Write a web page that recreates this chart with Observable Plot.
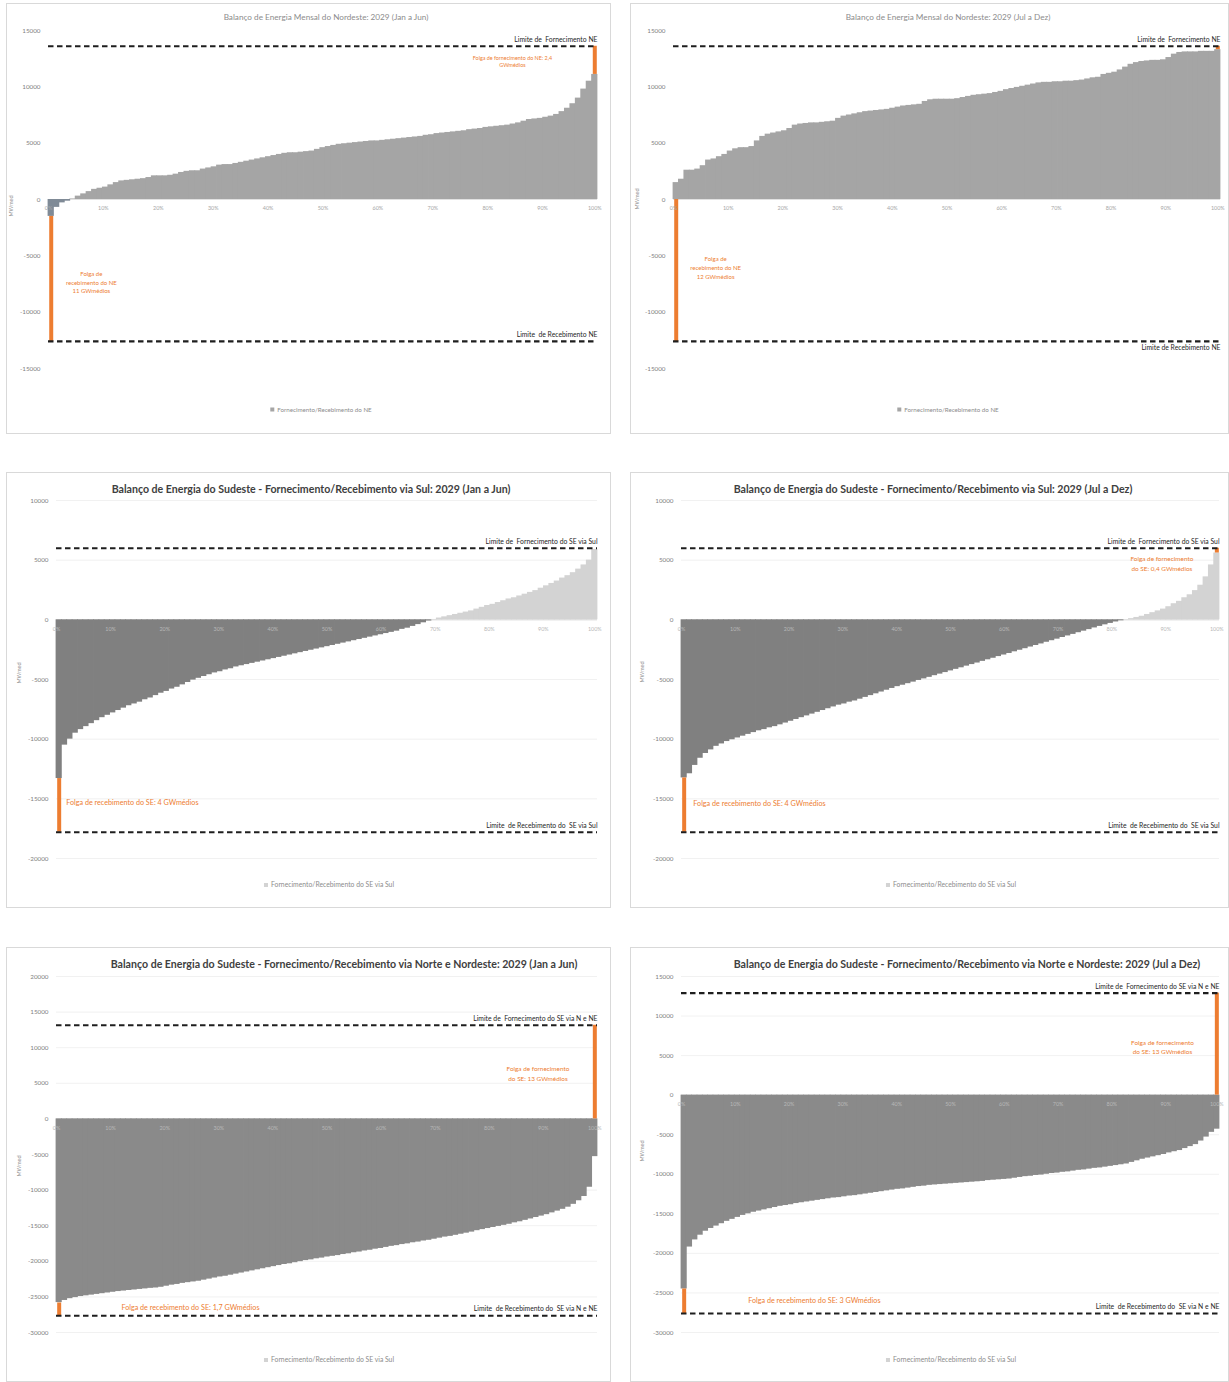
<!DOCTYPE html>
<html><head><meta charset="utf-8">
<script src="https://cdn.jsdelivr.net/npm/d3@7"></script>
<script src="https://cdn.jsdelivr.net/npm/@observablehq/plot@0.6"></script>
<style>
body{margin:0;background:#fff;font-family:Lato,"Open Sans",sans-serif;}
#root{position:relative;width:1229px;height:1382px;overflow:hidden;background:#fff;}
.card{position:absolute;border:1px solid #d9d9d9;box-sizing:border-box;background:#fff;}
.card svg{position:absolute;left:0;top:0;overflow:visible;}
.title{position:absolute;white-space:nowrap;transform:translate(-50%,-50%);}
.legend{position:absolute;white-space:nowrap;transform:translate(-50%,-50%);color:#8c8c8c;}
.legend span{display:inline-block;width:4px;height:4px;margin-right:3px;vertical-align:middle;}
.ylab{position:absolute;white-space:nowrap;transform:translate(-50%,-50%) rotate(-90deg);color:#8c8c8c;font-size:5.5px;}
</style></head>
<body><div id="root"></div>
<script>
// ---------- DATA ----------
const xTickLabels = ["0%","10%","20%","30%","40%","50%","60%","70%","80%","90%","100%"];

const nordesteJanJun = [-1500,-700,-300,-150,50,300,500,700,900,1000,1100,1300,1500,1650,1700,1750,1800,1850,1950,2100,2100,2100,2150,2250,2400,2500,2550,2550,2700,2800,2900,3050,3100,3100,3200,3300,3400,3500,3600,3700,3800,3900,4000,4100,4150,4150,4200,4250,4300,4450,4600,4700,4800,4900,4950,5000,5050,5100,5150,5200,5200,5250,5300,5350,5400,5450,5500,5550,5600,5700,5750,5850,5900,5950,6000,6050,6100,6200,6250,6300,6400,6450,6500,6550,6600,6700,6800,6950,7100,7150,7200,7300,7400,7550,7800,8100,8500,9000,9800,10500,11100];
const nordesteJulDez = [1500,1800,2600,2600,2700,3000,3500,3600,3800,4000,4300,4500,4600,4600,4700,5200,5600,5800,5900,6000,6100,6300,6600,6700,6750,6800,6800,6850,6900,6950,7200,7400,7500,7600,7700,7800,7850,7900,7950,8000,8100,8200,8300,8350,8400,8450,8700,8850,8900,8900,8900,8900,8950,9050,9150,9250,9300,9350,9400,9500,9600,9750,9850,9950,10050,10150,10250,10350,10400,10400,10450,10450,10500,10500,10550,10600,10700,10800,10850,11100,11200,11300,11500,11750,12000,12150,12250,12300,12350,12350,12400,12600,12900,13050,13100,13100,13100,13150,13150,13150,13300];
const sulJanJun = [-13300,-10500,-10000,-9500,-9200,-8950,-8700,-8450,-8200,-8000,-7800,-7600,-7400,-7200,-7050,-6900,-6700,-6550,-6350,-6150,-6000,-5800,-5650,-5450,-5250,-5050,-4900,-4750,-4600,-4450,-4350,-4200,-4100,-3950,-3850,-3750,-3650,-3550,-3450,-3350,-3250,-3150,-3050,-2950,-2850,-2750,-2650,-2550,-2450,-2350,-2250,-2150,-2050,-1950,-1850,-1750,-1650,-1550,-1450,-1350,-1250,-1150,-1050,-950,-800,-700,-550,-400,-250,-100,30,150,250,350,450,550,650,750,900,1050,1200,1300,1450,1600,1750,1850,2000,2150,2300,2450,2650,2850,3050,3250,3500,3700,3950,4250,4600,5000,5900];
const sulJulDez = [-13250,-12900,-12200,-11600,-11200,-10900,-10600,-10400,-10200,-10050,-9900,-9750,-9600,-9450,-9300,-9200,-9050,-8950,-8800,-8650,-8500,-8350,-8200,-8050,-7900,-7750,-7600,-7450,-7300,-7150,-7050,-6900,-6800,-6650,-6500,-6350,-6200,-6050,-5900,-5750,-5600,-5480,-5350,-5220,-5080,-4950,-4820,-4680,-4550,-4420,-4280,-4150,-4020,-3880,-3750,-3620,-3480,-3350,-3220,-3080,-2950,-2820,-2680,-2550,-2420,-2280,-2150,-2020,-1880,-1750,-1620,-1480,-1350,-1220,-1080,-950,-820,-680,-550,-420,-300,-180,-80,20,100,200,300,450,600,750,900,1100,1350,1550,1850,2100,2450,2900,3600,4600,5600];
const nneJanJun = [-25800,-25500,-25250,-25100,-24950,-24850,-24750,-24650,-24550,-24450,-24350,-24250,-24180,-24100,-24030,-23950,-23880,-23800,-23750,-23650,-23500,-23350,-23250,-23100,-23000,-22900,-22800,-22650,-22500,-22350,-22200,-22100,-21950,-21800,-21650,-21500,-21350,-21200,-21050,-20900,-20750,-20600,-20450,-20350,-20200,-20050,-19900,-19800,-19650,-19550,-19400,-19300,-19200,-19050,-18950,-18800,-18700,-18550,-18450,-18300,-18200,-18050,-17900,-17800,-17650,-17550,-17400,-17300,-17150,-17050,-16900,-16750,-16600,-16500,-16350,-16200,-16050,-15900,-15700,-15550,-15400,-15250,-15100,-14950,-14800,-14600,-14450,-14250,-14050,-13850,-13650,-13450,-13200,-12950,-12700,-12400,-12000,-11500,-10900,-9600,-5300];
const nneJulDez = [-24500,-19200,-18300,-17700,-17200,-16850,-16550,-16250,-15950,-15700,-15450,-15200,-15000,-14800,-14650,-14500,-14350,-14200,-14050,-13950,-13850,-13700,-13600,-13500,-13400,-13300,-13200,-13100,-13000,-12950,-12850,-12750,-12700,-12600,-12500,-12400,-12300,-12200,-12100,-12000,-11900,-11850,-11750,-11650,-11550,-11500,-11400,-11350,-11300,-11250,-11200,-11150,-11100,-11050,-11000,-10950,-10900,-10800,-10750,-10700,-10650,-10600,-10500,-10400,-10300,-10250,-10150,-10100,-10000,-9900,-9850,-9750,-9700,-9600,-9500,-9450,-9350,-9250,-9200,-9100,-9000,-8900,-8800,-8700,-8500,-8300,-8100,-7950,-7800,-7650,-7500,-7300,-7150,-7000,-6750,-6500,-6250,-5800,-5300,-4700,-4300];

// limits [fornecimento, recebimento] (MWmed)
const limitesNEJanJun = [13600, -12600];
const limitesNEJulDez = [13600, -12600];
const limitesSulJanJun = [6000, -17800];
const limitesSulJulDez = [6000, -17800];
const limitesNNEJanJun = [13150, -27650];
const limitesNNEJulDez = [12900, -27600];

// slack bars: where (inicio/fim), from, to
const folgaNEJanJun = [{pos:"fim", de:11100, ate:13600}, {pos:"inicio", de:-1500, ate:-12600}];
const folgaNEJulDez = [{pos:"fim", de:13300, ate:13600}, {pos:"inicio", de:0, ate:-12600}];
const folgaSulJanJun = [{pos:"inicio", de:-13300, ate:-17800}];
const folgaSulJulDez = [{pos:"fim", de:5600, ate:6000}, {pos:"inicio", de:-13250, ate:-17800}];
const folgaNNEJanJun = [{pos:"fim", de:0, ate:13150}, {pos:"inicio", de:-25850, ate:-27650}];
const folgaNNEJulDez = [{pos:"fim", de:0, ate:12900}, {pos:"inicio", de:-24500, ate:-27600}];

const titulos = [
  "Balanço de Energia Mensal do Nordeste: 2029 (Jan a Jun)",
  "Balanço de Energia Mensal do Nordeste: 2029 (Jul a Dez)",
  "Balanço de Energia do Sudeste - Fornecimento/Recebimento  via Sul: 2029 (Jan a Jun)",
  "Balanço de Energia do Sudeste - Fornecimento/Recebimento  via Sul: 2029 (Jul a Dez)",
  "Balanço de Energia do Sudeste - Fornecimento/Recebimento  via Norte e Nordeste: 2029 (Jan a Jun)",
  "Balanço de Energia do Sudeste - Fornecimento/Recebimento  via Norte e Nordeste: 2029 (Jul a Dez)"
];
const legendas = [
  "Fornecimento/Recebimento do NE","Fornecimento/Recebimento do NE",
  "Fornecimento/Recebimento do SE via Sul","Fornecimento/Recebimento do SE via Sul",
  "Fornecimento/Recebimento do SE via Sul","Fornecimento/Recebimento do SE via Sul"
];
const rotulosLimite = [
  ["Limite de  Fornecimento NE","Limite  de Recebimento NE"],
  ["Limite de  Fornecimento NE","Limite de Recebimento NE"],
  ["Limite de  Fornecimento do SE via Sul","Limite  de Recebimento do  SE via Sul"],
  ["Limite de  Fornecimento do SE via Sul","Limite  de Recebimento do  SE via Sul"],
  ["Limite de  Fornecimento do SE via N e NE","Limite  de Recebimento do  SE via N e NE"],
  ["Limite de  Fornecimento do SE via N e NE","Limite  de Recebimento do  SE via N e NE"]
];
const notasFolga = [
  ["Folga de fornecimento do NE: 2,4\nGWmédios","Folga de\nrecebimento do NE\n11 GWmédios"],
  ["Folga de\nrecebimento do NE\n12 GWmédios"],
  ["Folga de recebimento do SE: 4 GWmédios"],
  ["Folga de fornecimento\ndo SE: 0,4 GWmédios","Folga de recebimento do SE: 4 GWmédios"],
  ["Folga de fornecimento\ndo SE: 13 GWmédios","Folga de recebimento do SE: 1,7 GWmédios"],
  ["Folga de fornecimento\ndo SE: 13 GWmédios","Folga de recebimento do SE: 3 GWmédios"]
];

// ---------- LAYOUT ----------
const ORANGE = "#ed7d31";
const panels = [
  {left:6,top:3,w:605,h:431,mL:41,mR:13,mT:26,mB:65,dom:[-15000,15000],step:5000,
   values:nordesteJanJun,limits:limitesNEJanJun,folga:folgaNEJanJun,neg:"#7f8a96",pos:"#a5a5a5",grid:false,
   titleX:319,titleY:13,titleSize:8.2,titleWeight:400,titleColor:"#8c8c8c",legendX:314,legendY:405,legendSize:6.2,legendSw:"#a5a5a5",
   ylabX:4,ylabY:202,limSide:["above","above"],
   notes:[{x:84.5,y:12300,anchor:"middle",size:5.4},{x:7.8,y:-7300,anchor:"middle",size:6}]},
  {left:630,top:3,w:599,h:431,mL:42,mR:8,mT:26,mB:65,dom:[-15000,15000],step:5000,
   values:nordesteJulDez,limits:limitesNEJulDez,folga:folgaNEJulDez,neg:"#7f8a96",pos:"#a5a5a5",grid:false,
   titleX:317,titleY:13,titleSize:8.2,titleWeight:400,titleColor:"#8c8c8c",legendX:317,legendY:405,legendSize:6.2,legendSw:"#a5a5a5",
   ylabX:6,ylabY:195,limSide:["above","below"],
   notes:[{x:7.7,y:-6000,anchor:"middle",size:6}]},
  {left:6,top:472,w:605,h:436,mL:49,mR:13,mT:27,mB:49,dom:[-20000,10000],step:5000,
   values:sulJanJun,limits:limitesSulJanJun,folga:folgaSulJanJun,neg:"#808080",pos:"#d3d3d3",grid:true,
   titleX:304,titleY:16,titleSize:10.6,titleWeight:700,titleColor:"#404040",legendX:322,legendY:411,legendSize:6.8,legendSw:"#d3d3d3",
   ylabX:12,ylabY:200,limSide:["above","above"],
   notes:[{x:1.8,y:-15250,anchor:"start",size:7.2}]},
  {left:630,top:472,w:599,h:436,mL:50,mR:9,mT:27,mB:49,dom:[-20000,10000],step:5000,
   values:sulJulDez,limits:limitesSulJulDez,folga:folgaSulJulDez,neg:"#808080",pos:"#d3d3d3",grid:true,
   titleX:302,titleY:16,titleSize:10.6,titleWeight:700,titleColor:"#404040",legendX:320,legendY:411,legendSize:6.8,legendSw:"#d3d3d3",
   ylabX:11,ylabY:199,limSide:["above","above"],
   notes:[{x:89.3,y:4750,anchor:"middle",size:6.4},{x:2.2,y:-15330,anchor:"start",size:7.2}]},
  {left:6,top:947,w:605,h:435,mL:49,mR:13,mT:28,mB:49,dom:[-30000,20000],step:5000,
   values:nneJanJun,limits:limitesNNEJanJun,folga:folgaNNEJanJun,neg:"#8a8a8a",pos:"#d3d3d3",grid:true,
   titleX:337,titleY:16,titleSize:10.6,titleWeight:700,titleColor:"#404040",legendX:322,legendY:411,legendSize:6.8,legendSw:"#d3d3d3",
   ylabX:12,ylabY:218,limSide:["above","above"],
   notes:[{x:89,y:6430,anchor:"middle",size:6.4},{x:12,y:-26430,anchor:"start",size:7.2}]},
  {left:630,top:947,w:599,h:435,mL:50,mR:9,mT:28,mB:49,dom:[-30000,15000],step:5000,
   values:nneJulDez,limits:limitesNNEJulDez,folga:folgaNNEJulDez,neg:"#8a8a8a",pos:"#d3d3d3",grid:true,
   titleX:336,titleY:16,titleSize:10.6,titleWeight:700,titleColor:"#404040",legendX:320,legendY:411,legendSize:6.8,legendSw:"#d3d3d3",
   ylabX:11,ylabY:203,limSide:["above","above"],
   notes:[{x:89.4,y:6170,anchor:"middle",size:6.4},{x:12.4,y:-25800,anchor:"start",size:7.2}]}
];

const root = document.getElementById("root");

panels.forEach((p, k) => {
  const card = document.createElement("div");
  card.className = "card";
  Object.assign(card.style, {left:p.left+"px", top:p.top+"px", width:p.w+"px", height:p.h+"px"});
  root.appendChild(card);

  const n = p.values.length;
  const bars = p.values.map((v, i) => ({x1: i * 100 / n, x2: (i + 1) * 100 / n, v}));
  const xAt = pos => pos === "inicio" ? 50 / n : 100 - 50 / n;
  const yTicks = d3.range(p.dom[1], p.dom[0] - 1, -p.step);
  const xTicks = xTickLabels.map(s => ({x: Math.min(parseFloat(s), 100 - 50 / n), s}));
  const limData = p.limits.map((y, i) => ({y, text: rotulosLimite[k][i]}));

  const marks = [];
  if (p.grid) marks.push(Plot.ruleY(yTicks, {stroke: "#ededed", strokeWidth: 0.8}));
  marks.push(Plot.ruleY([0], {stroke: "#d9d9d9", strokeWidth: 0.8}));
  marks.push(Plot.rectY(bars, {x1: "x1", x2: "x2", y1: 0, y2: "v", insetLeft: -0.4, insetRight: -0.4,
    fill: d => d.v < 0 ? p.neg : p.pos}));
  marks.push(Plot.ruleX(p.folga, {x: d => xAt(d.pos), y1: "de", y2: "ate", stroke: ORANGE, strokeWidth: 4}));
  marks.push(Plot.ruleY(limData, {y: "y", x1: 0, x2: 100, stroke: "#1e1e1e", strokeWidth: 2.2, strokeDasharray: "5.5,3.5"}));
  limData.forEach((d, i) => {
    const above = p.limSide[i] === "above";
    marks.push(Plot.text([d], {x: 100, y: "y", text: "text", textAnchor: "end",
      lineAnchor: above ? "bottom" : "top", dy: above ? -4.5 : 3.5, fontSize: 6.8, fill: "#262626"}));
  });
  marks.push(Plot.text(xTicks, {x: "x", y: 0, text: "s", dy: 9, fontSize: 5.4, fill: p.grid ? "#b8b8b8" : "#a6a6a6"}));
  marks.push(Plot.text(yTicks, {y: d => d, frameAnchor: "left", dx: -8, textAnchor: "end", text: d => String(d), fontSize: 6.3, fill: "#7f7f7f"}));
  p.notes.forEach((nt, i) => {
    marks.push(Plot.text([notasFolga[k][i]], {x: nt.x, y: nt.y, text: d => d, textAnchor: nt.anchor, fontSize: nt.size, lineHeight: 1.45, fill: ORANGE}));
  });

  const svg = Plot.plot({
    width: p.w - 2, height: p.h - 2,
    marginLeft: p.mL, marginRight: p.mR, marginTop: p.mT, marginBottom: p.mB,
    x: {domain: [0, 100], axis: null},
    y: {domain: p.dom, axis: null},
    color: {type: "identity"},
    style: {fontFamily: "Lato, 'Open Sans', sans-serif", background: "transparent", overflow: "visible"},
    marks
  });
  card.appendChild(svg);

  const t = document.createElement("div");
  t.className = "title";
  t.textContent = titulos[k];
  Object.assign(t.style, {left: p.titleX + "px", top: p.titleY + "px", fontSize: p.titleSize + "px", fontWeight: p.titleWeight, color: p.titleColor});
  card.appendChild(t);

  const lg = document.createElement("div");
  lg.className = "legend";
  lg.innerHTML = `<span style="background:${p.legendSw}"></span>` + legendas[k];
  Object.assign(lg.style, {left: p.legendX + "px", top: p.legendY + "px", fontSize: p.legendSize + "px"});
  card.appendChild(lg);

  const yl = document.createElement("div");
  yl.className = "ylab";
  yl.textContent = "MWmed";
  Object.assign(yl.style, {left: p.ylabX + "px", top: p.ylabY + "px"});
  card.appendChild(yl);
});
</script>
</body></html>
